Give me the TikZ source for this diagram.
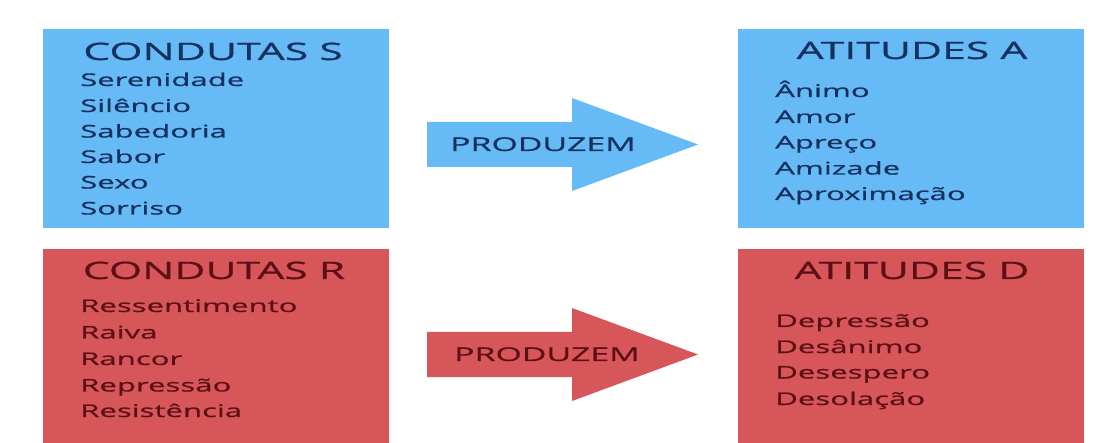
\documentclass[tikz,border=0pt]{standalone}
\usepackage{fontspec}
\newfontfamily\wf[FakeStretch=1.78,FakeBold=0.8]{Open Sans}
\definecolor{bluefill}{RGB}{102,186,245}
\definecolor{redfill}{RGB}{214,86,90}
\definecolor{bluetext}{RGB}{22,48,95}
\definecolor{redtext}{RGB}{92,16,22}
\begin{document}
\begin{tikzpicture}[x=1pt,y=-1pt,
  box/.style={inner sep=0pt, outer sep=0pt, anchor=north west, minimum width=346pt},
  ttl/.style={anchor=base, font=\wf\fontsize{24}{28}\selectfont},
  itm/.style={anchor=base west, inner sep=0pt, font=\wf\fontsize{17.5}{20}\selectfont},
  lbl/.style={anchor=base, font=\wf\fontsize{19}{22}\selectfont}]
\useasboundingbox (0,0) rectangle (1116,443);
\fill[white] (0,0) rectangle (1116,443);
% boxes
\node[box, fill=bluefill, minimum height=199pt] (cs) at (43,29) {};
\node[box, fill=bluefill, minimum height=199pt] (aa) at (738,29) {};
\node[box, fill=redfill, minimum height=194pt] (cr) at (43,249) {};
\node[box, fill=redfill, minimum height=194pt] (ad) at (738,249) {};
% arrows
\fill[bluefill] (427,122) -- (572,122) -- (572,98) -- (698,144.5) -- (572,191) -- (572,167) -- (427,167) -- cycle;
\fill[redfill] (427,332) -- (572,332) -- (572,308) -- (698,354.5) -- (572,401) -- (572,377) -- (427,377) -- cycle;
\node[lbl, text=bluetext] (p1) at (543,151) {PRODUZEM};
\node[lbl, text=redtext] (p2) at (547,361) {PRODUZEM};
% CONDUTAS S
\begin{scope}[text=bluetext]
\node[ttl] (t1) at (213,60) {CONDUTAS S};
\node[itm] (s1) at (80,86) {Serenidade};
\node[itm] (s2) at (80,112) {Silêncio};
\node[itm] (s3) at (80,137.5) {Sabedoria};
\node[itm] (s4) at (80,163) {Sabor};
\node[itm] (s5) at (80,188.5) {Sexo};
\node[itm] (s6) at (80,214.5) {Sorriso};
% ATITUDES A
\node[ttl] (t2) at (912,59) {ATITUDES A};
\node[itm] (a1) at (775,97) {Ânimo};
\node[itm] (a2) at (775,123) {Amor};
\node[itm] (a3) at (775,148.5) {Apreço};
\node[itm] (a4) at (775,174.5) {Amizade};
\node[itm] (a5) at (775,200) {Aproximação};
\end{scope}
\begin{scope}[text=redtext]
\node[ttl] (t3) at (214,279) {CONDUTAS R};
\node[itm] (r1) at (80,312) {Ressentimento};
\node[itm] (r2) at (80,338.5) {Raiva};
\node[itm] (r3) at (80,365) {Rancor};
\node[itm] (r4) at (80,391.5) {Repressão};
\node[itm] (r5) at (80,417) {Resistência};
\node[ttl] (t4) at (912,279) {ATITUDES D};
\node[itm] (d1) at (775,327) {Depressão};
\node[itm] (d2) at (775,353) {Desânimo};
\node[itm] (d3) at (775,378.5) {Desespero};
\node[itm] (d4) at (775,405) {Desolação};
\end{scope}
\end{tikzpicture}
\end{document}
